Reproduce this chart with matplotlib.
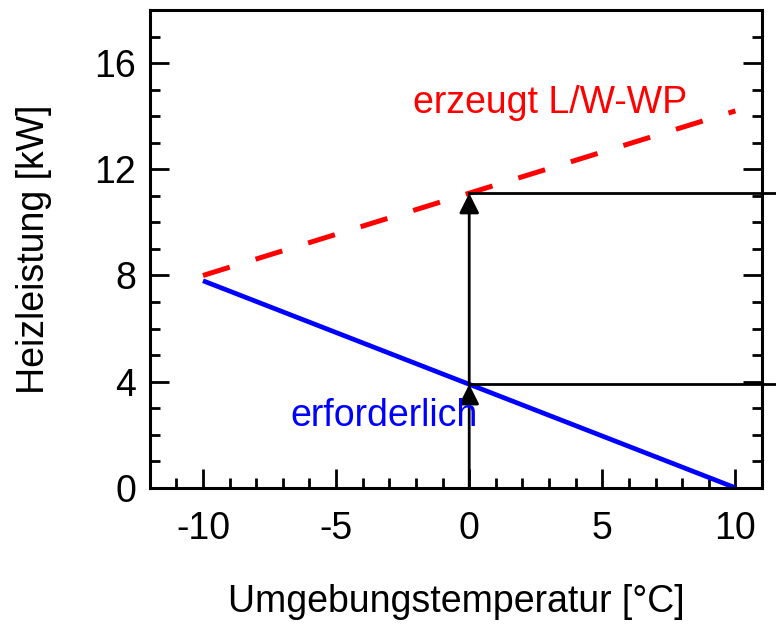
import numpy as np
import matplotlib.pyplot as plt
from matplotlib.ticker import MultipleLocator

plt.rcParams['font.family'] = ['Liberation Sans', 'DejaVu Sans']
plt.rcParams['axes.unicode_minus'] = False

temp = [-10, 0, 10]
erzeugt = [8.0, 11.1, 14.2]
erforderlich = [7.8, 3.9, 0.0]

fig = plt.figure(figsize=(7.76, 6.27), dpi=100)
ax = fig.add_axes([0.193, 0.222, 0.789, 0.762])

ax.plot(temp, erzeugt, color='red', lw=3.6, dashes=(5.6, 5.4), dash_capstyle='butt')
ax.plot(temp, erforderlich, color='blue', lw=3.4, solid_capstyle='butt')

# Arbeitspunkt bei 0 °C
arrow = dict(arrowstyle='-|>', mutation_scale=30, lw=2, color='k', shrinkA=0, shrinkB=0)
ax.annotate('', xy=(0, erforderlich[1]), xytext=(0, 0), arrowprops=arrow)
ax.annotate('', xy=(0, erzeugt[1]), xytext=(0, erforderlich[1]), arrowprops=arrow)
ax.plot([0, 11.6], [erzeugt[1]] * 2, color='k', lw=2, clip_on=False)
ax.plot([0, 11.6], [erforderlich[1]] * 2, color='k', lw=2, clip_on=False)

ax.text(-2.1, 14.5, 'erzeugt L/W-WP', color='red', fontsize=27, va='center')
ax.text(-6.7, 2.7, 'erforderlich', color='blue', fontsize=27, va='center')

ax.set_xlim(-12, 11)
ax.set_ylim(0, 18)
ax.xaxis.set_major_locator(MultipleLocator(5))
ax.xaxis.set_minor_locator(MultipleLocator(1))
ax.yaxis.set_major_locator(MultipleLocator(4))
ax.yaxis.set_minor_locator(MultipleLocator(1))
ax.tick_params(which='both', direction='in', width=2, labelsize=27, right=True, top=False)
ax.tick_params(which='major', length=14)
ax.tick_params(which='minor', length=7.5)
ax.tick_params(axis='x', which='major', pad=17)
ax.tick_params(axis='y', which='major', pad=10)
for s in ax.spines.values():
    s.set_linewidth(2.2)

ax.set_xlabel('Umgebungstemperatur [°C]', fontsize=27, labelpad=26)
ax.set_ylabel('Heizleistung [kW]', fontsize=27, labelpad=30)

fig.savefig('out.png', dpi=100)
